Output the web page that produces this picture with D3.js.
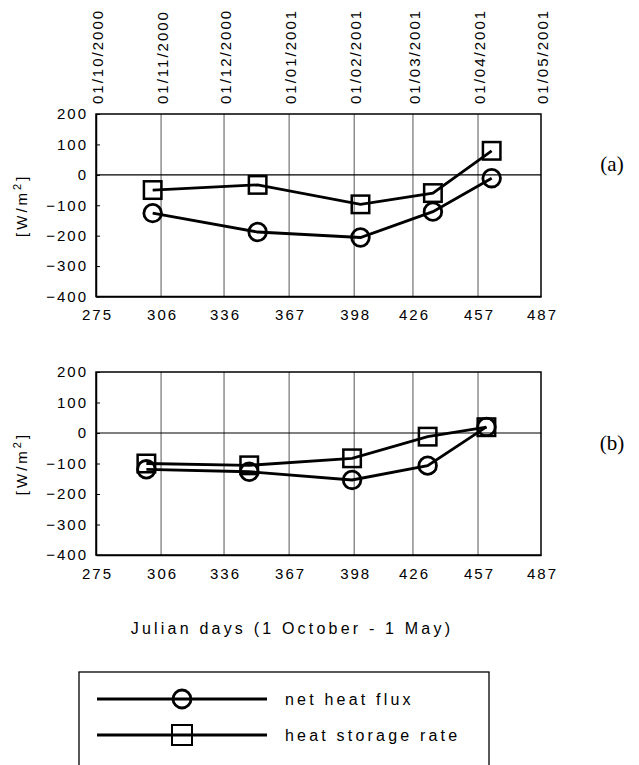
<!DOCTYPE html>
<html>
<head>
<meta charset="utf-8">
<script src="https://cdn.jsdelivr.net/npm/d3@7"></script>
<style>
  body { margin: 0; background: #fff; }
  text { font-family: "Liberation Sans", Arial, sans-serif; fill: #000; }
</style>
</head>
<body>
<div id="chart"></div>
<script>
// Julian day ticks and matching calendar dates
var dayTicks = [275, 306, 336, 367, 398, 426, 457, 487];
var dateLabels = ["01/10/2000", "01/11/2000", "01/12/2000", "01/01/2001",
                  "01/02/2001", "01/03/2001", "01/04/2001", "01/05/2001"];
var valueTicks = [200, 100, 0, -100, -200, -300, -400];

// panel (a)
var daysA = [302, 352, 401, 435.5, 463.5];
var netFluxA = [-126, -188, -206, -121, -11];
var storageA = [-50, -33, -97, -60, 79];

// panel (b)
var daysB = [299, 348, 397, 433, 461];
var netFluxB = [-119, -127, -154, -107, 20];
var storageB = [-100, -106, -83, -12, 19];

var seriesNames = ["net heat flux", "heat storage rate"];

function init() {
    var w = 639, h = 765;
    var left = 96, right = 541;

    var svg = d3.select("#chart").append("svg")
        .attr("width", w)
        .attr("height", h);

    var x = d3.scaleLinear().domain([275, 487]).range([left, right]);

    function drawPanel(top, bottom, days, flux, storage, tag) {
        var y = d3.scaleLinear().domain([-400, 200]).range([bottom, top]);
        var g = svg.append("g");

        // vertical grid lines
        g.selectAll(".grid")
            .data(dayTicks.slice(1, -1))
            .enter().append("line")
            .attr("x1", d => x(d)).attr("x2", d => x(d))
            .attr("y1", top).attr("y2", bottom)
            .style("stroke", "#555")
            .style("stroke-width", 1);

        // zero line
        g.append("line")
            .attr("x1", left).attr("x2", right)
            .attr("y1", y(0)).attr("y2", y(0))
            .style("stroke", "#000")
            .style("stroke-width", 1.2);

        // frame
        g.append("rect")
            .attr("x", left).attr("y", top)
            .attr("width", right - left).attr("height", bottom - top)
            .style("fill", "none")
            .style("stroke", "#000")
            .style("stroke-width", 1.5);

        // y axis
        var yAxis = d3.axisLeft(y).tickValues(valueTicks)
            .tickSizeInner(-4).tickSizeOuter(0).tickPadding(8);
        var ya = g.append("g")
            .attr("transform", "translate(" + left + ",0)")
            .call(yAxis);
        ya.select(".domain").style("stroke-width", 1.5);
        ya.selectAll("text")
            .style("font-size", "15px")
            .style("letter-spacing", "2px")
            .style("font-family", "'Liberation Sans', Arial, sans-serif");

        // x axis
        var xAxis = d3.axisBottom(x).tickValues(dayTicks)
            .tickSize(0).tickPadding(13);
        var xa = g.append("g")
            .attr("transform", "translate(0," + bottom + ")")
            .call(xAxis);
        xa.select(".domain").style("stroke-width", 1.5);
        xa.selectAll("text")
            .style("font-size", "15px")
            .style("letter-spacing", "2px")
            .attr("dx", "1px")
            .style("font-family", "'Liberation Sans', Arial, sans-serif");

        // y label
        var yl = g.append("text")
            .attr("transform", "translate(27," + ((top + bottom) / 2) + ") rotate(-90)")
            .style("text-anchor", "middle")
            .style("font-size", "15px")
            .style("letter-spacing", "3px");
        yl.append("tspan").text("[W/m");
        yl.append("tspan").attr("dy", "-6").style("font-size", "11px").text("2");
        yl.append("tspan").attr("dy", "6").text("]");

        // panel tag
        g.append("text")
            .attr("x", 612).attr("y", y(0) + (tag === "(a)" ? -4 : 17))
            .style("text-anchor", "middle")
            .style("font-family", "'Liberation Serif', 'Times New Roman', serif")
            .style("font-size", "21px")
            .text(tag);

        var line = d3.line()
            .x(d => x(d[0]))
            .y(d => y(d[1]));

        var fluxPts = days.map((d, i) => [d, flux[i]]);
        var storPts = days.map((d, i) => [d, storage[i]]);

        [fluxPts, storPts].forEach(function(pts) {
            g.append("path")
                .datum(pts)
                .attr("d", line)
                .style("fill", "none")
                .style("stroke", "#000")
                .style("stroke-width", 2.8);
        });

        g.selectAll(".sq")
            .data(storPts)
            .enter().append("rect")
            .attr("x", d => x(d[0]) - 8.75)
            .attr("y", d => y(d[1]) - 8.75)
            .attr("width", 17.5).attr("height", 17.5)
            .style("fill", "none")
            .style("stroke", "#000")
            .style("stroke-width", 2.5);

        g.selectAll(".ci")
            .data(fluxPts)
            .enter().append("circle")
            .attr("cx", d => x(d[0]))
            .attr("cy", d => y(d[1]))
            .attr("r", 8.8)
            .style("fill", "none")
            .style("stroke", "#000")
            .style("stroke-width", 2.8);

        return g;
    }

    drawPanel(114, 296.5, daysA, netFluxA, storageA, "(a)");
    drawPanel(372, 555, daysB, netFluxB, storageB, "(b)");

    // date labels on top of panel (a), reading upwards
    svg.selectAll(".date")
        .data(dayTicks)
        .enter().append("text")
        .attr("transform", d => "translate(" + (x(d) + 7) + ",104) rotate(-90)")
        .style("text-anchor", "start")
        .style("font-size", "15px")
        .style("letter-spacing", "2px")
        .text((d, i) => dateLabels[i]);

    // x label
    svg.append("text")
        .attr("x", 292).attr("y", 634)
        .style("text-anchor", "middle")
        .style("font-size", "16px")
        .style("letter-spacing", "3.2px")
        .text("Julian days (1 October - 1 May)");

    // legend
    var legend = svg.append("g");
    legend.append("rect")
        .attr("x", 79).attr("y", 672)
        .attr("width", 410).attr("height", 110)
        .style("fill", "none")
        .style("stroke", "#000")
        .style("stroke-width", 1.3);

    seriesNames.forEach(function(name, i) {
        var ly = 699 + i * 36;
        legend.append("line")
            .attr("x1", 97).attr("x2", 267)
            .attr("y1", ly).attr("y2", ly)
            .style("stroke", "#000")
            .style("stroke-width", 2.8);
        if (i === 0) {
            legend.append("circle")
                .attr("cx", 182).attr("cy", ly).attr("r", 9)
                .style("fill", "none").style("stroke", "#000").style("stroke-width", 2.8);
        } else {
            legend.append("rect")
                .attr("x", 172).attr("y", ly - 10).attr("width", 20).attr("height", 20)
                .style("fill", "none").style("stroke", "#000").style("stroke-width", 2);
        }
        legend.append("text")
            .attr("x", 285).attr("y", ly + 6)
            .style("font-size", "16px")
            .style("letter-spacing", "3.2px")
            .text(name);
    });
}

init();
</script>
</body>
</html>
